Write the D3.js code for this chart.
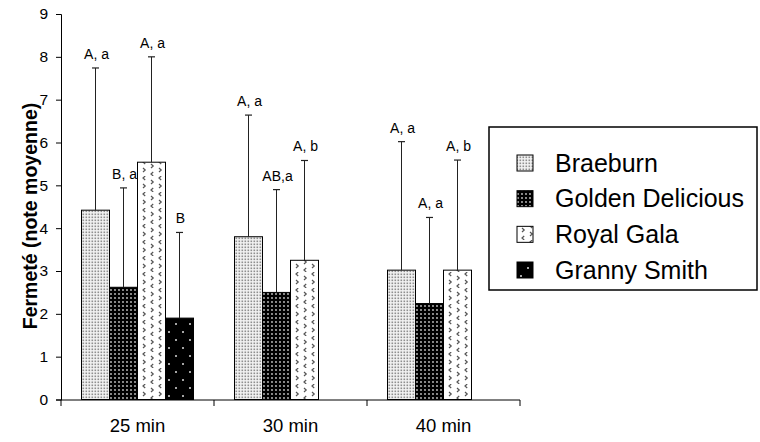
<!DOCTYPE html>
<html>
<head>
<meta charset="utf-8">
<script src="https://cdn.jsdelivr.net/npm/d3@7"></script>
<style>
  body { margin: 0; background: #fff; }
  svg { display: block; font-family: "Liberation Sans", Arial, sans-serif; }
</style>
</head>
<body>
<svg id="chart" width="760" height="442"></svg>
<script>
// ---- data ----
const categories = ["25 min", "30 min", "40 min"];
const seriesNames = ["Braeburn", "Golden Delicious", "Royal Gala", "Granny Smith"];
const braeburn = [4.42, 3.80, 3.02];
const goldenDelicious = [2.62, 2.50, 2.24];
const royalGala = [5.54, 3.25, 3.02];
const grannySmith = [1.90, 0, 0];
const braeburnSD = [3.32, 2.84, 3.00];
const goldenDeliciousSD = [2.32, 2.40, 2.01];
const royalGalaSD = [2.46, 2.33, 2.57];
const grannySmithSD = [2.00, null, null];
const braeburnLabels = ["A, a", "A, a", "A, a"];
const goldenDeliciousLabels = ["B, a", "AB,a", "A, a"];
const royalGalaLabels = ["A, a", "A, b", "A, b"];
const grannySmithLabels = ["B", "", ""];
const yTicks = [0, 1, 2, 3, 4, 5, 6, 7, 8, 9];
const yTitle = "Fermeté (note moyenne)";

const seriesValues = [braeburn, goldenDelicious, royalGala, grannySmith];
const seriesSD = [braeburnSD, goldenDeliciousSD, royalGalaSD, grannySmithSD];
const seriesLabels = [braeburnLabels, goldenDeliciousLabels, royalGalaLabels, grannySmithLabels];

const svg = d3.select("#chart");
const defs = svg.append("defs");

// ---- patterns ----
function pat(id, w, h) {
  return defs.append("pattern").attr("id", id).attr("patternUnits", "userSpaceOnUse")
    .attr("width", w).attr("height", h);
}
// Braeburn: light with dense gray dots
let p = pat("p0", 3, 3);
p.append("rect").attr("width", 3).attr("height", 3).attr("fill", "#f2f2f2");
p.append("rect").attr("x", 0.5).attr("y", 0.5).attr("width", 1.6).attr("height", 1.6).attr("fill", "#8f8f8f");
// Golden Delicious: black with gray-white dots
p = pat("p1", 4, 4);
p.append("rect").attr("width", 4).attr("height", 4).attr("fill", "#000");
p.append("circle").attr("cx", 2).attr("cy", 2).attr("r", 0.9).attr("fill", "#c8c8c8");
// Royal Gala: white with < > marks
p = pat("p2", 16, 16);
p.append("rect").attr("width", 16).attr("height", 16).attr("fill", "#fff");
const chev = [["<", 2, 2], [">", 10, 6], [">", 2, 10], ["<", 10, 14]];
chev.forEach(([t, cx, cy]) => {
  const d = t === "<" ? `M${cx + 2.2},${cy - 2} L${cx},${cy} L${cx + 2.2},${cy + 2}`
                      : `M${cx},${cy - 2} L${cx + 2.2},${cy} L${cx},${cy + 2}`;
  p.append("path").attr("d", d).attr("fill", "none").attr("stroke", "#555").attr("stroke-width", 1.2);
});
// Granny Smith: black with sparse white dots
p = pat("p3", 14, 16);
p.append("rect").attr("width", 14).attr("height", 16).attr("fill", "#000");
p.append("circle").attr("cx", 3).attr("cy", 4).attr("r", 1).attr("fill", "#ddd");
p.append("circle").attr("cx", 10).attr("cy", 12).attr("r", 1).attr("fill", "#ddd");

const fills = ["url(#p0)", "url(#p1)", "url(#p2)", "url(#p3)"];

// ---- scales ----
const y = d3.scaleLinear().domain([0, 9]).range([399.5, 14]);
const x0 = d3.scaleBand().domain(categories).range([61, 520]).padding(0);
const x1 = d3.scaleBand().domain(seriesNames).range([20.5, x0.bandwidth() - 20.5]).padding(0);

// ---- axes ----
const yAxis = d3.axisLeft(y).tickValues(yTicks).tickSize(5).tickPadding(8).tickFormat(d3.format("d"));
const gy = svg.append("g").attr("transform", "translate(61,0)").call(yAxis);
gy.selectAll("text").attr("font-size", 15.5).attr("fill", "#000").attr("font-family", "Liberation Sans, Arial, sans-serif");
gy.selectAll("line, path").attr("stroke", "#000");

// bars
const groups = svg.append("g").selectAll("g").data(categories).join("g")
  .attr("transform", d => `translate(${x0(d)},0)`);

seriesNames.forEach((s, si) => {
  groups.append("rect")
    .attr("x", x1(s))
    .attr("width", x1.bandwidth())
    .attr("y", (d, ci) => y(seriesValues[si][ci]))
    .attr("height", (d, ci) => y(0) - y(seriesValues[si][ci]))
    .attr("fill", fills[si])
    .attr("stroke", "#000")
    .attr("stroke-width", 1);
});

// error bars and labels
seriesNames.forEach((s, si) => {
  groups.each(function(d, ci) {
    const sd = seriesSD[si][ci];
    if (sd == null) return;
    const g = d3.select(this);
    const cx = x1(s) + x1.bandwidth() / 2;
    const top = y(seriesValues[si][ci] + sd);
    g.append("line").attr("x1", cx).attr("x2", cx)
      .attr("y1", y(seriesValues[si][ci])).attr("y2", top)
      .attr("stroke", "#222").attr("stroke-width", 1);
    g.append("line").attr("x1", cx - 3.5).attr("x2", cx + 3.5)
      .attr("y1", top).attr("y2", top)
      .attr("stroke", "#222").attr("stroke-width", 1.2);
    const lab = seriesLabels[si][ci];
    if (lab) {
      g.append("text").attr("x", cx + 1).attr("y", top - 9)
        .attr("text-anchor", "middle").attr("font-size", 14).attr("fill", "#000").text(lab);
    }
  });
});

// x axis (drawn over bars)
const xAxis = d3.axisBottom(x0).tickSize(0).tickPadding(19);
const gx = svg.append("g").attr("transform", "translate(0,400)").call(xAxis);
gx.select(".domain").remove();
gx.selectAll("text").attr("font-size", 18.5).attr("fill", "#000").attr("font-family", "Liberation Sans, Arial, sans-serif");
svg.append("line").attr("x1", 61).attr("x2", 520).attr("y1", 400).attr("y2", 400).attr("stroke", "#000");
const boundaries = categories.map(c => x0(c)).concat([x0(categories[categories.length - 1]) + x0.bandwidth()]);
svg.append("g").selectAll("line").data(boundaries).join("line")
  .attr("x1", d => d).attr("x2", d => d).attr("y1", 400).attr("y2", 406).attr("stroke", "#000");

// y title
svg.append("text")
  .attr("transform", "translate(37,216) rotate(-90)")
  .attr("text-anchor", "middle").attr("font-size", 19.5).attr("font-weight", "bold")
  .attr("fill", "#000").text(yTitle);

// legend
const lg = svg.append("g");
lg.append("rect").attr("x", 489).attr("y", 127).attr("width", 268).attr("height", 163)
  .attr("fill", "#fff").attr("stroke", "#000").attr("stroke-width", 1.5);
const rowY = d3.scalePoint().domain(seriesNames).range([163, 270]);
seriesNames.forEach((s, si) => {
  lg.append("rect").attr("x", 517).attr("y", rowY(s) - 8).attr("width", 16).attr("height", 16)
    .attr("fill", fills[si]).attr("stroke", "#000").attr("stroke-width", 1);
  lg.append("text").attr("x", 555).attr("y", rowY(s)).attr("dy", "0.35em")
    .attr("font-size", 25).attr("fill", "#000").text(s);
});
</script>
</body>
</html>
